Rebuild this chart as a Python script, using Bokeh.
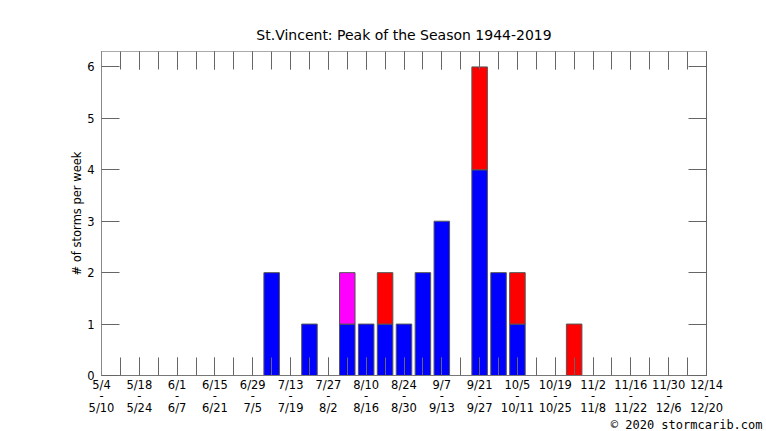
from bokeh.plotting import figure
from bokeh.models import (ColumnDataSource, FixedTicker, LinearAxis, Range1d, Title)
from bokeh.embed import file_html
from bokeh.resources import INLINE

# ---- data ----
week_starts = ["5/4", "5/11", "5/18", "5/25", "6/1", "6/8", "6/15", "6/22", "6/29",
               "7/6", "7/13", "7/20", "7/27", "8/3", "8/10", "8/17", "8/24", "8/31",
               "9/7", "9/14", "9/21", "9/28", "10/5", "10/12", "10/19", "10/26",
               "11/2", "11/9", "11/16", "11/23", "11/30", "12/7", "12/14"]
week_ends = ["5/10", "5/17", "5/24", "5/31", "6/7", "6/14", "6/21", "6/28", "7/5",
             "7/12", "7/19", "7/26", "8/2", "8/9", "8/16", "8/23", "8/30", "9/6",
             "9/13", "9/20", "9/27", "10/4", "10/11", "10/18", "10/25", "11/1",
             "11/8", "11/15", "11/22", "11/29", "12/6", "12/13", "12/20"]
blue_counts = [0, 0, 0, 0, 0, 0, 0, 0, 0, 2, 0, 1, 0, 1, 1, 1, 1, 2, 3, 0, 4, 2, 1,
               0, 0, 0, 0, 0, 0, 0, 0, 0, 0]
magenta_counts = [0, 0, 0, 0, 0, 0, 0, 0, 0, 0, 0, 0, 0, 1, 0, 0, 0, 0, 0, 0, 0, 0, 0,
                  0, 0, 0, 0, 0, 0, 0, 0, 0, 0]
red_counts = [0, 0, 0, 0, 0, 0, 0, 0, 0, 0, 0, 0, 0, 0, 0, 1, 0, 0, 0, 0, 2, 0, 1,
              0, 0, 1, 0, 0, 0, 0, 0, 0, 0]
y_ticks = [0, 1, 2, 3, 4, 5, 6]
title_text = "St.Vincent: Peak of the Season 1944-2019"
ylabel_text = "# of storms per week"
copyright_text = "\u00a9 2020 stormcarib.com"

n_weeks = len(week_starts)
weeks = list(range(n_weeks))

FONT = "DejaVu Sans"
TICK_COLOR = "#666666"

p = figure(width=766, height=431, output_backend="svg", toolbar_location=None,
           x_range=Range1d(0, n_weeks - 1), y_range=Range1d(0, 6.3),
           min_border_left=101, min_border_right=60, min_border_top=51,
           min_border_bottom=56, title=None)
p.background_fill_color = "white"
p.border_fill_color = "white"
p.outline_line_color = "#999999"
p.xgrid.visible = False
p.ygrid.visible = False

# stacked bars
series = [(blue_counts, "#0000ff"), (magenta_counts, "#ff00ff"), (red_counts, "#ff0000")]
base = [0] * n_weeks
for counts, color in series:
    xs, bottoms, tops = [], [], []
    for w in weeks:
        if counts[w] > 0:
            xs.append(w)
            bottoms.append(base[w])
            tops.append(base[w] + counts[w])
    base = [b + c for b, c in zip(base, counts)]
    src = ColumnDataSource(dict(x=xs, bottom=bottoms, top=tops))
    p.vbar(x="x", bottom="bottom", top="top", width=0.82, source=src,
           fill_color=color, line_color="#555555", line_width=1)

major_x = weeks[::2]
x_labels = {w: f"{week_starts[w]}\n-\n{week_ends[w]}" for w in major_x}


def style_x(ax, labels):
    ax.ticker = FixedTicker(ticks=major_x, minor_ticks=weeks)
    ax.major_tick_in = 18
    ax.major_tick_out = 0
    ax.minor_tick_in = 18
    ax.minor_tick_out = 0
    ax.major_tick_line_color = TICK_COLOR
    ax.minor_tick_line_color = TICK_COLOR
    ax.axis_line_color = "#777777"
    if labels:
        ax.major_label_overrides = x_labels
        ax.major_label_text_font = FONT
        ax.major_label_text_font_size = "11.5px"
        ax.major_label_text_color = "black"
        ax.major_label_text_line_height = 0.85
        ax.major_label_standoff = 2
    else:
        ax.major_label_overrides = {w: "" for w in major_x}
        ax.major_label_standoff = 0


def style_y(ax, labels):
    ax.ticker = FixedTicker(ticks=y_ticks, minor_ticks=[])
    ax.major_tick_in = 18
    ax.major_tick_out = 0
    ax.minor_tick_line_color = None
    ax.major_tick_line_color = TICK_COLOR
    ax.axis_line_color = "#888888"
    if labels:
        ax.major_label_text_font = FONT
        ax.major_label_text_font_size = "11.5px"
        ax.major_label_text_color = "black"
        ax.major_label_standoff = 7
        ax.axis_label = ylabel_text
        ax.axis_label_text_font = FONT
        ax.axis_label_text_font_size = "11.5px"
        ax.axis_label_text_font_style = "normal"
        ax.axis_label_text_color = "black"
        ax.axis_label_standoff = 0
    else:
        ax.major_label_overrides = {t: "" for t in y_ticks}
        ax.major_label_standoff = 0


style_x(p.xaxis[0], True)
style_y(p.yaxis[0], True)

top_axis = LinearAxis()
style_x(top_axis, False)
top_axis.axis_line_color = "#aaaaaa"
p.add_layout(top_axis, "above")

right_axis = LinearAxis()
style_y(right_axis, False)
right_axis.axis_line_color = "#666666"
p.add_layout(right_axis, "right")

title = Title(text=title_text, align="center", text_font=FONT,
              text_font_size="14px", text_font_style="normal",
              text_color="black", standoff=17)
p.add_layout(title, "above")

credit = Title(text=copyright_text, align="right", offset=-56,
               text_font="DejaVu Sans Mono", text_font_size="12px",
               text_font_style="normal", text_color="black", standoff=-5)
p.add_layout(credit, "below")

open("out.html", "w").write(file_html(p, INLINE))
